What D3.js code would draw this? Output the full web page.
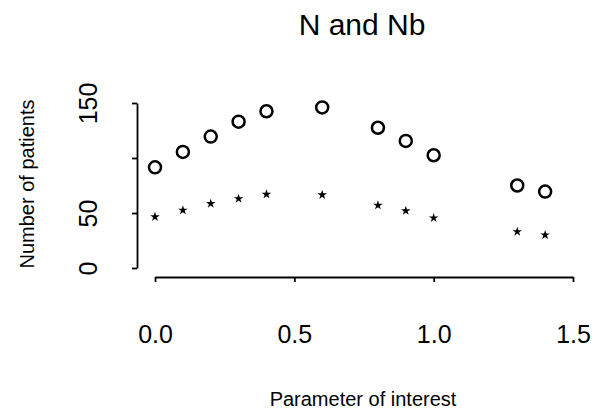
<!DOCTYPE html>
<html><head><meta charset="utf-8">
<script src="https://cdn.jsdelivr.net/npm/d3@7"></script>
<style>body{margin:0;background:#fff}svg{display:block}text{font-family:"Liberation Sans",Arial,sans-serif;fill:#000}</style>
</head><body>
<script>
const params = [0.0, 0.1, 0.2, 0.3, 0.4, 0.6, 0.8, 0.9, 1.0, 1.3, 1.4];
const nValues = [91.5, 105.5, 119.5, 133, 142.5, 146, 127.5, 115.5, 102.5, 75, 69.5];
const nbValues = [46.5, 52.5, 58.5, 63, 67, 66.5, 57, 52, 45.5, 33, 30];
const xTicks = [0, 0.5, 1.0, 1.5];
const xTickLabels = ["0.0", "0.5", "1.0", "1.5"];
const yTicks = [0, 50, 100, 150];
const yTickLabels = ["0", "50", "", "150"];

const W = 592, H = 410;
const svg = d3.select("body").append("svg").attr("width", W).attr("height", H);
const x = d3.scaleLinear().domain([0, 1.5]).range([155, 573]);
const y = d3.scaleLinear().domain([0, 150]).range([268, 103]);

// x axis
const xAxis = svg.append("g").attr("transform", "translate(0,277)")
  .call(d3.axisBottom(x).tickValues(xTicks).tickSize(5).tickSizeOuter(0).tickFormat((d,i)=>xTickLabels[i]));
xAxis.select(".domain").attr("stroke", "#000").attr("stroke-width", 1.8);
xAxis.selectAll(".tick line").attr("stroke", "#000").attr("stroke-width", 1.8);
xAxis.selectAll(".tick text").attr("font-size", 25).attr("y", 0).attr("dy", null)
  .attr("transform", "translate(0,66)").attr("font-family", "Liberation Sans, Arial, sans-serif");

// y axis
const yAxis = svg.append("g").attr("transform", "translate(137,0)")
  .call(d3.axisLeft(y).tickValues(yTicks).tickSize(5).tickSizeOuter(0).tickFormat((d,i)=>yTickLabels[i]));
yAxis.select(".domain").attr("stroke", "#000").attr("stroke-width", 1.8);
yAxis.selectAll(".tick line").attr("stroke", "#000").attr("stroke-width", 1.8);
yAxis.selectAll(".tick text").attr("font-size", 25).attr("x", 0).attr("dy", null)
  .attr("text-anchor", "middle")
  .attr("transform", "translate(-40,0) rotate(-90)").attr("font-family", "Liberation Sans, Arial, sans-serif");

// circles (N)
svg.append("g").selectAll("circle").data(params).join("circle")
  .attr("cx", (d) => x(d)).attr("cy", (d,i) => y(nValues[i])).attr("r", 6)
  .attr("fill", "none").attr("stroke", "#000").attr("stroke-width", 2.5);

// stars (Nb)
const star = d3.symbol().type(d3.symbolStar).size(28);
svg.append("g").selectAll("path").data(params).join("path")
  .attr("transform", (d,i) => `translate(${x(d)},${y(nbValues[i])})`)
  .attr("d", star).attr("fill", "#000");

// title
svg.append("text").attr("x", 362).attr("y", 35).attr("text-anchor", "middle")
  .attr("font-size", 30).text("N and Nb");
// x label
svg.append("text").attr("x", 363).attr("y", 406).attr("text-anchor", "middle")
  .attr("font-size", 20).text("Parameter of interest");
// y label
svg.append("text").attr("transform", "translate(34,184) rotate(-90)").attr("text-anchor", "middle")
  .attr("font-size", 20).text("Number of patients");
</script>
</body></html>
